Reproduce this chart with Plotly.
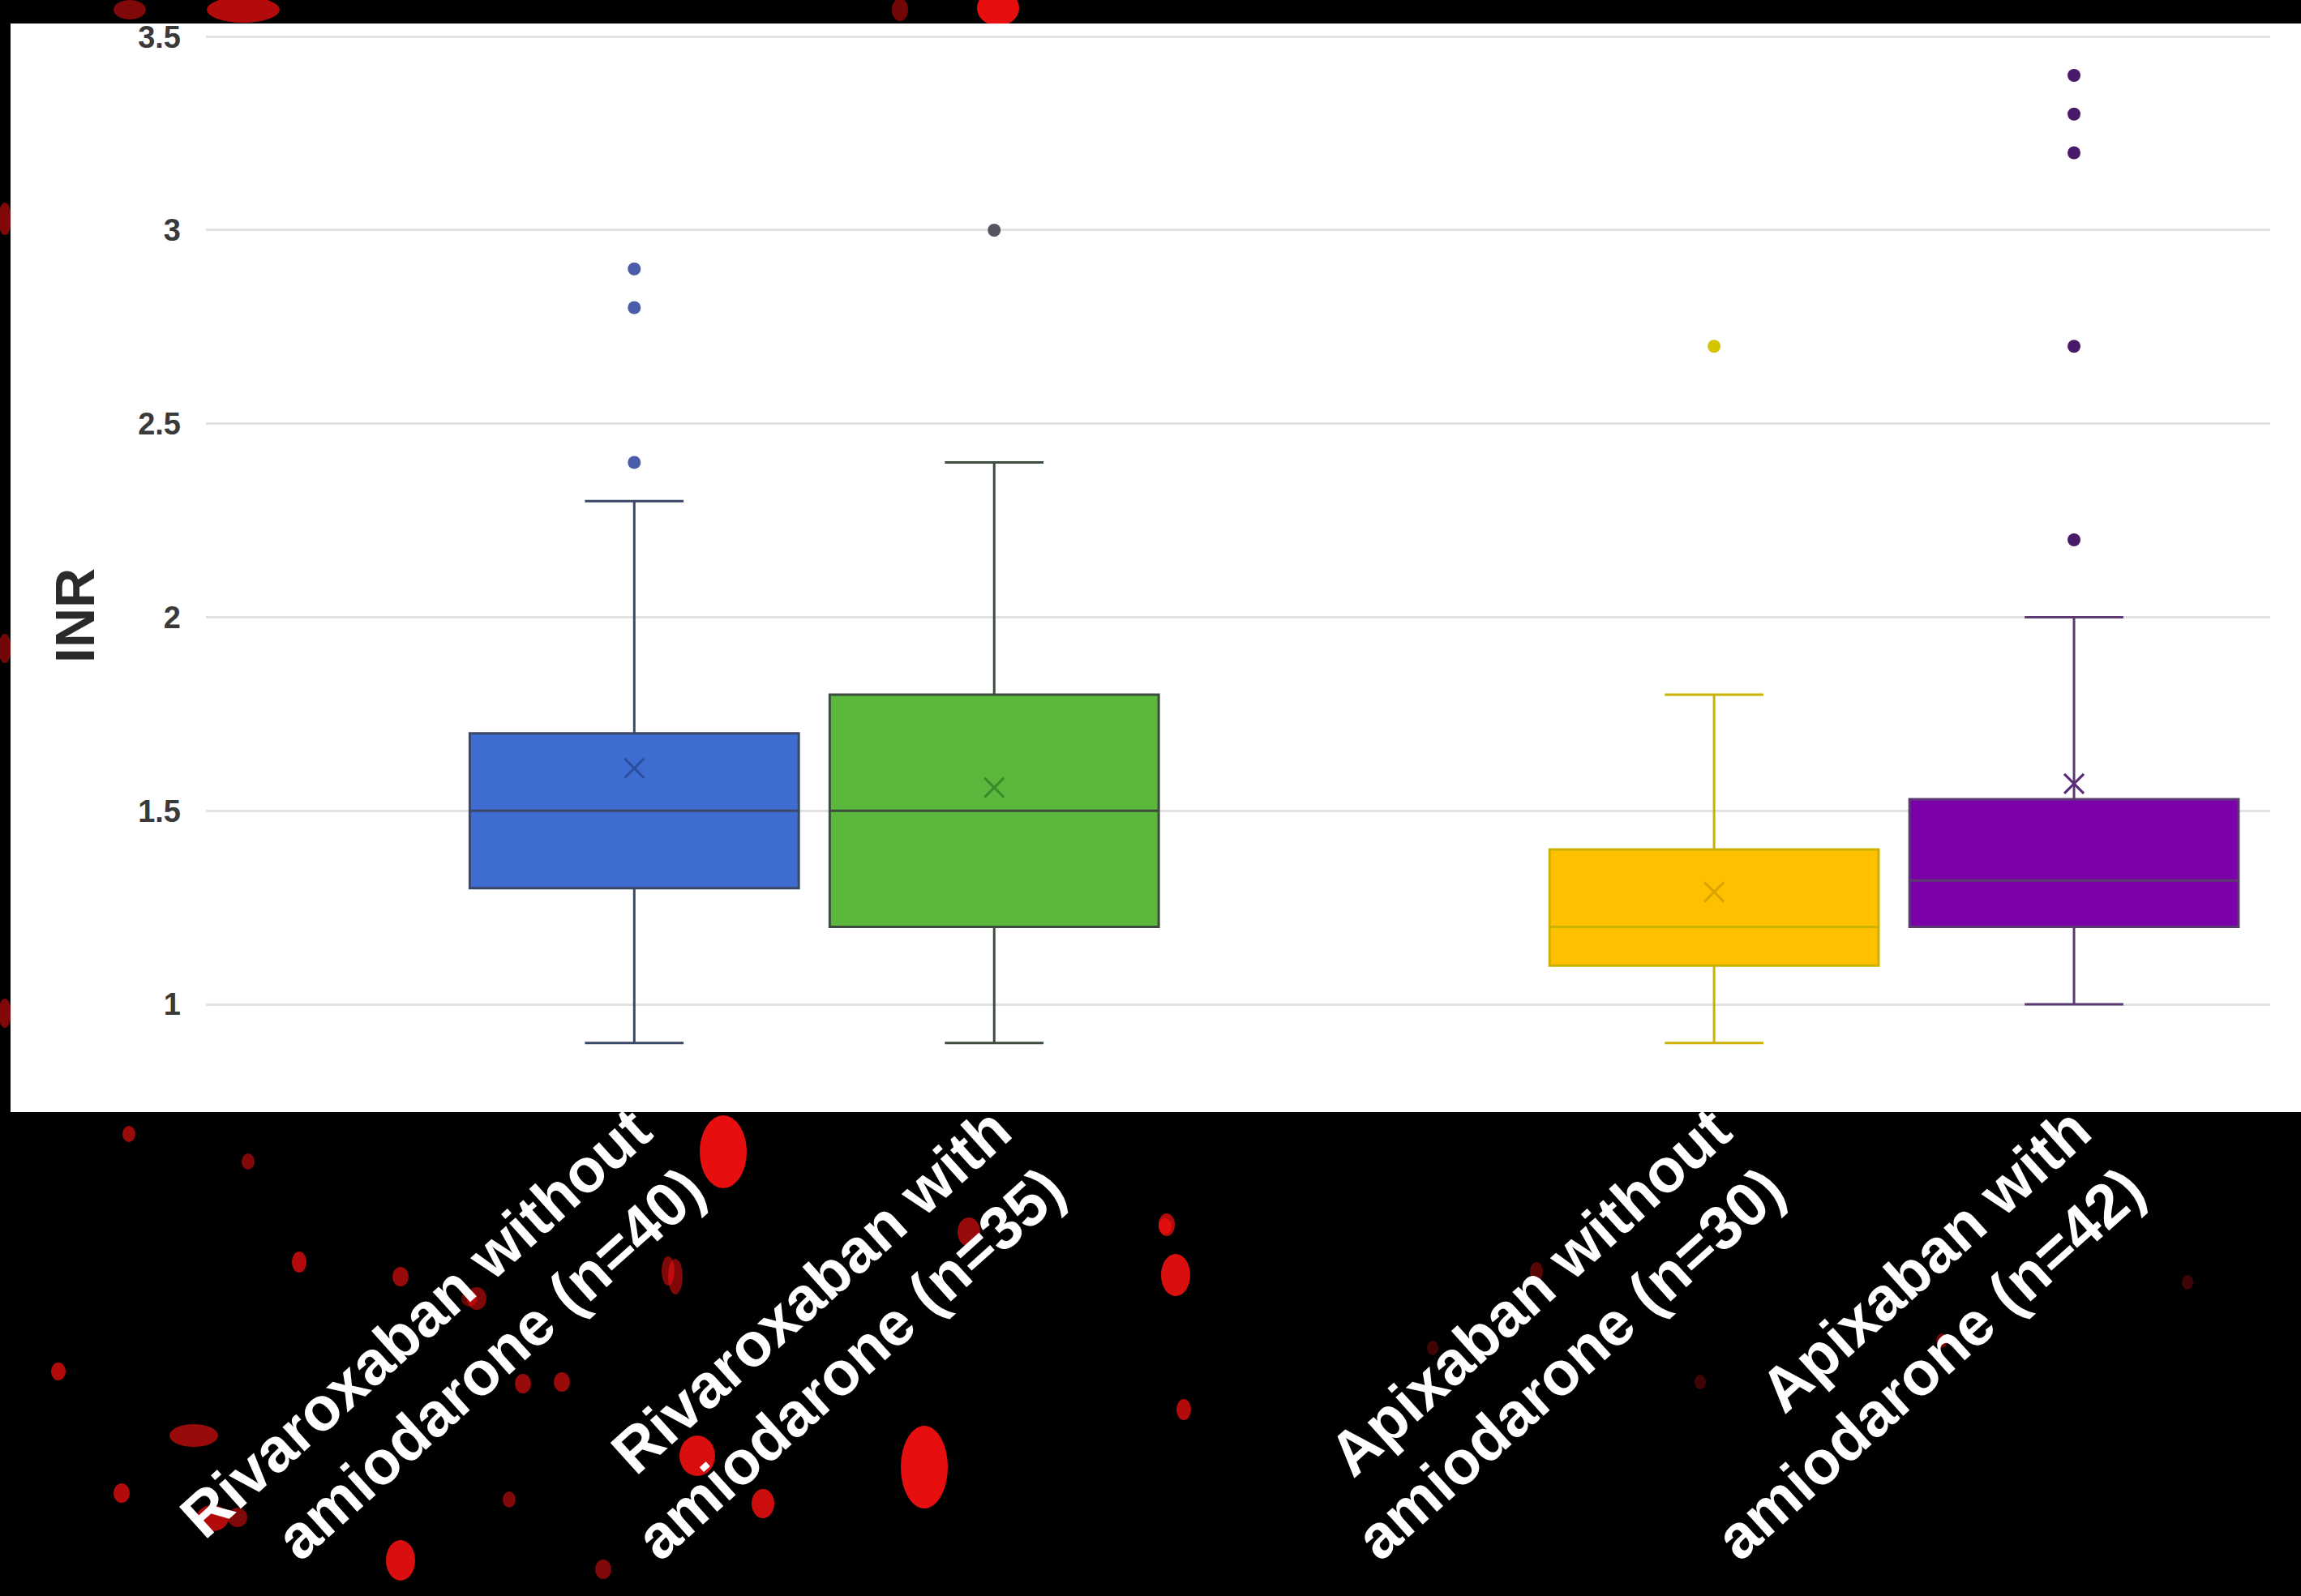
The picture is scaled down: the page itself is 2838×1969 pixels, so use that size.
import plotly.graph_objects as go

# ---- data ----
categories = ["Rivaroxaban without<br>amiodarone (n=40)",
              "Rivaroxaban with<br>amiodarone (n=35)",
              None,
              "Apixaban without<br>amiodarone (n=30)",
              "Apixaban with<br>amiodarone (n=42)"]
q1_vals = [1.3, 1.2, None, 1.1, 1.2]
median_vals = [1.5, 1.5, None, 1.2, 1.32]
q3_vals = [1.7, 1.8, None, 1.4, 1.53]
lower_vals = [0.9, 0.9, None, 0.9, 1.0]
upper_vals = [2.3, 2.4, None, 1.8, 2.0]
mean_vals = [1.61, 1.56, None, 1.29, 1.57]
outliers = [[2.9, 2.8, 2.4], [3.0], None, [2.7], [3.4, 3.3, 3.2, 2.7, 2.2]]

y_ticks = [1, 1.5, 2, 2.5, 3, 3.5]
y_ticktext = ["1", "1.5", "2", "2.5", "3", "3.5"]

# ---- styles ----
fills = ["#3F6CD0", "#5BB83C", None, "#FFC000", "#7B00A8"]
lines = ["#3A4868", "#3D4D3D", None, "#C9B200", "#5A3A70"]
mean_cols = ["#2C4C9E", "#3A8A2A", None, "#D9A300", "#5A2A7A"]
out_cols = ["#4A5CAA", "#555560", None, "#D4C400", "#4A1A6A"]

fig = go.Figure()
tickvals, ticktext = [], []
for i, cat in enumerate(categories):
    if cat is None:
        continue
    tickvals.append(i)
    ticktext.append(cat)
    fig.add_trace(go.Box(
        x=[i], q1=[q1_vals[i]], median=[median_vals[i]], q3=[q3_vals[i]],
        lowerfence=[lower_vals[i]], upperfence=[upper_vals[i]],
        width=0.914, whiskerwidth=0.3,
        fillcolor=fills[i], line=dict(color=lines[i], width=3),
        boxpoints=False, showlegend=False, hoverinfo="skip"))
    fig.add_trace(go.Scatter(
        x=[i], y=[mean_vals[i]], mode="markers",
        marker=dict(symbol="x-thin", size=24, line=dict(color=mean_cols[i], width=3)),
        showlegend=False, hoverinfo="skip"))
    fig.add_trace(go.Scatter(
        x=[i] * len(outliers[i]), y=outliers[i], mode="markers",
        marker=dict(symbol="circle", size=16, color=out_cols[i]),
        showlegend=False, hoverinfo="skip"))

W, H = 2838, 1969
L, R, T, B = 254, 38, 29, 597
pw, ph = W - L - R, H - T - B


def px_x(v):
    return (v - L) / pw


def px_y(v):
    return (H - B - v) / ph


# decorative red background specks (pixel centre x, y, radius x, radius y, opacity)
specks = [
    (892, 1421, 29, 45, 0.9), (1231, 10, 26, 22, 0.9), (1140, 1810, 29, 51, 0.9),
    (860, 1796, 22, 25, 0.85), (1450, 1573, 18, 26, 0.85), (262, 1873, 20, 16, 0.7),
    (150, 1842, 10, 12, 0.7), (494, 1925, 18, 25, 0.85), (941, 1855, 14, 18, 0.8),
    (369, 1557, 9, 13, 0.7), (494, 1575, 10, 12, 0.6), (588, 1602, 12, 14, 0.5),
    (693, 1705, 10, 12, 0.6), (645, 1707, 10, 12, 0.6), (833, 1575, 9, 22, 0.5),
    (1439, 1511, 10, 14, 0.7), (1460, 1739, 9, 13, 0.7), (72, 1692, 9, 11, 0.7),
    (159, 1399, 8, 10, 0.6), (306, 1433, 8, 10, 0.5), (1195, 1520, 14, 18, 0.6),
    (239, 1771, 30, 14, 0.6), (293, 1872, 12, 12, 0.5), (744, 1936, 10, 12, 0.5),
    (628, 1850, 8, 10, 0.5), (579, 1602, 10, 10, 0.4), (824, 1568, 8, 18, 0.5),
    (1437, 1513, 8, 10, 0.6), (1895, 1569, 8, 12, 0.35), (1767, 1663, 7, 9, 0.25),
    (2097, 1705, 7, 9, 0.25), (2395, 1654, 7, 9, 0.45), (2698, 1582, 7, 9, 0.25),
    (300, 12, 45, 16, 0.7), (160, 12, 20, 12, 0.5), (6, 270, 8, 20, 0.5),
    (6, 800, 8, 18, 0.45), (6, 1250, 8, 18, 0.5), (1110, 12, 10, 14, 0.45),
]
for sx, sy, rx, ry, op in specks:
    fig.add_shape(type="circle", xref="paper", yref="paper",
                  x0=px_x(sx - rx), x1=px_x(sx + rx),
                  y0=px_y(sy + ry), y1=px_y(sy - ry),
                  fillcolor="#FF1010", opacity=op, line=dict(width=0), layer="below")

fig.add_shape(type="rect", xref="paper", yref="paper",
              x0=px_x(13), x1=px_x(W), y0=0, y1=1,
              fillcolor="white", line=dict(width=0), layer="below")

fig.add_annotation(text="<b>INR</b>", xref="paper", yref="paper",
                   x=px_x(92), y=px_y(760), xanchor="center", yanchor="middle",
                   textangle=-90, showarrow=False,
                   font=dict(family="Liberation Sans", size=68, color="#2A2A2A"))

fig.update_layout(
    width=W, height=H,
    margin=dict(l=L, r=R, t=T, b=B, pad=0),
    paper_bgcolor="black", plot_bgcolor="white",
    xaxis=dict(range=[-1.19, 4.545], tickvals=tickvals, ticktext=ticktext,
               tickangle=-42, showgrid=False, zeroline=False, showline=False,
               automargin=False, ticklabelstandoff=-38,
               tickfont=dict(family="Liberation Sans", size=76, color="white", weight="bold")),
    yaxis=dict(range=[0.7215, 3.534], tickvals=y_ticks, ticktext=y_ticktext,
               showgrid=True, gridcolor="#E2E2E2", gridwidth=3,
               zeroline=False, showline=False, ticklabelstandoff=30, automargin=False,
               tickfont=dict(family="Liberation Sans", size=38, color="#3A3A3A", weight="bold")),
)

fig.write_html("out.html", config={"displayModeBar": False},
               post_script="document.body.style.margin='0';document.body.style.overflow='hidden';")
